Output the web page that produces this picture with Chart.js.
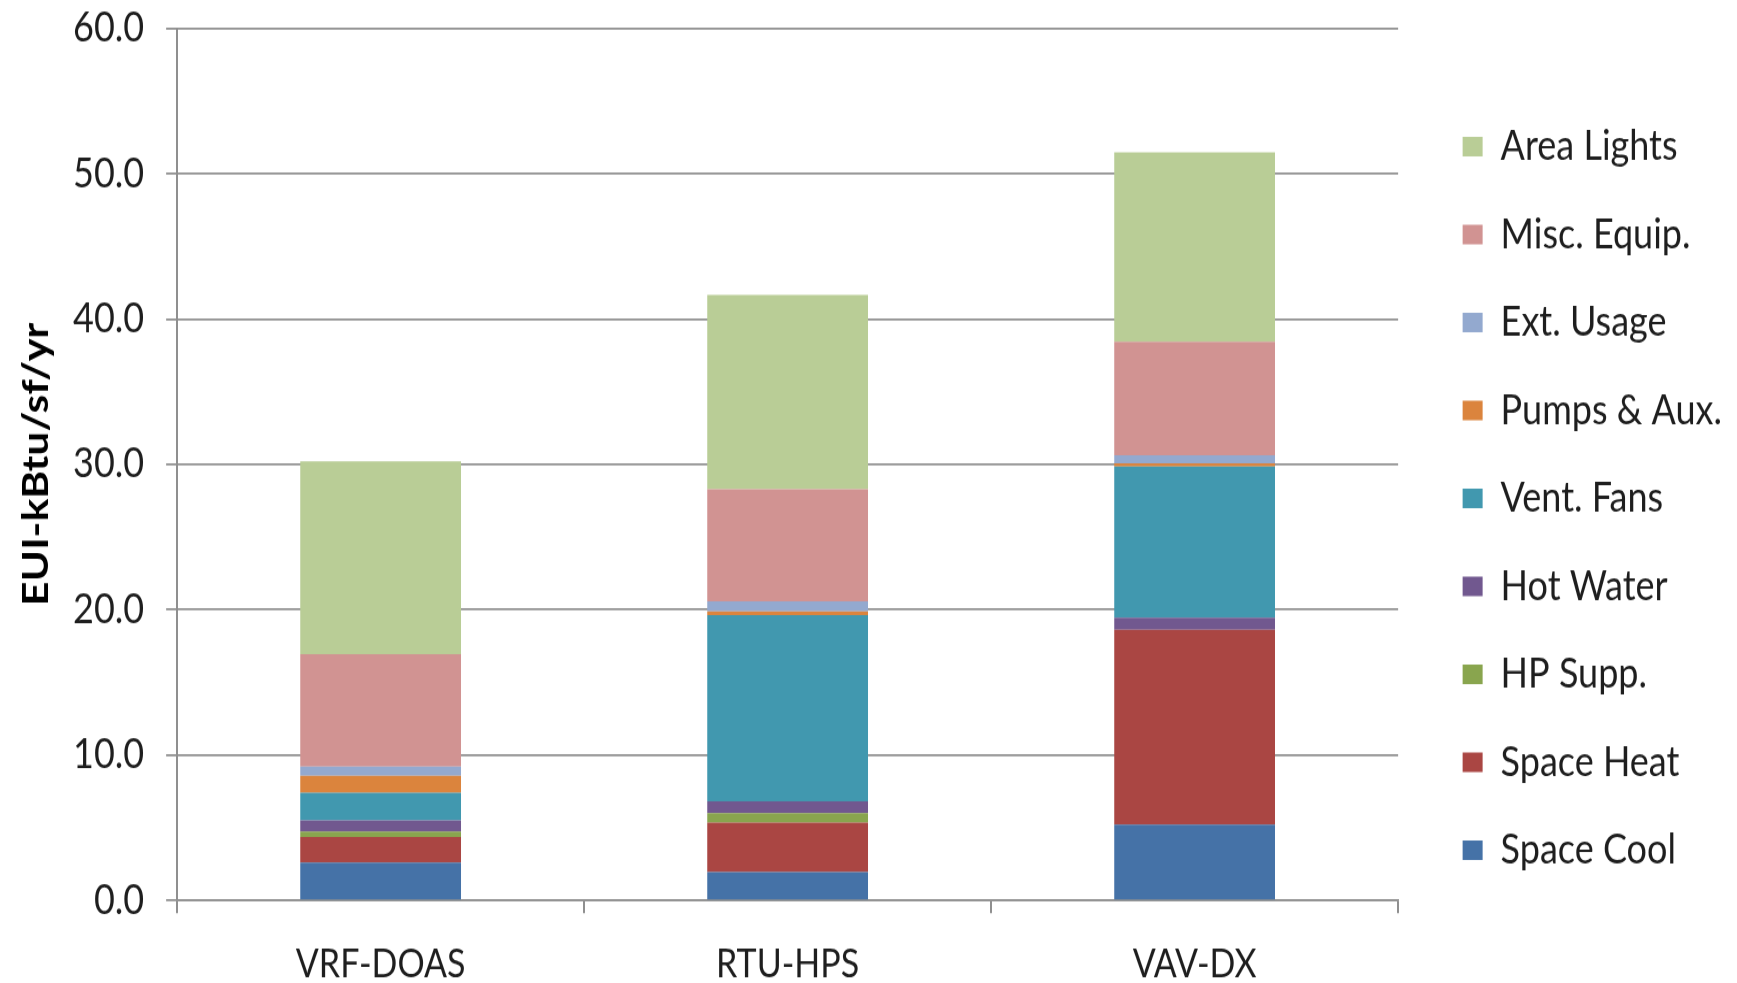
<!DOCTYPE html>
<html>
<head>
<meta charset="utf-8">
<title>EUI by system</title>
<script src="https://cdn.jsdelivr.net/npm/chart.js@4/dist/chart.umd.min.js"></script>
<style>
    html, body { margin: 0; padding: 0; background: #ffffff; overflow: hidden; }
    canvas { display: block; }
</style>
</head>
<body>
<!-- drawn at 855px high and stretched to 983px, like the original export -->
<canvas id="barChart" width="1737" height="855" style="width:1737px;height:983px;"></canvas>
<script>
// Stacked bar chart of annual energy use intensity per system type

const systems = ["VRF-DOAS", "RTU-HPS", "VAV-DX"];

const spaceCool   = [2.60, 1.95, 5.22];
const spaceHeat   = [1.77, 3.41, 13.41];
const hpSupp      = [0.37, 0.65, 0.00];
const hotWater    = [0.78, 0.81, 0.82];
const ventFans    = [1.90, 12.80, 10.41];
const pumpsAux    = [1.15, 0.27, 0.21];
const extUsage    = [0.64, 0.69, 0.55];
const miscEquip   = [7.73, 7.70, 7.82];
const areaLights  = [13.26, 13.38, 13.03];

const yTicks = [0, 10, 20, 30, 40, 50, 60];

const gridColor = '#8f8f8f';
const textColor = '#1e1e1e';

// move the legend away from the plot without changing its row spacing
const legendShift = {
    id: 'legendShift',
    afterLayout(chart) {
        const lg = chart.legend;
        lg.left += 24;
        lg.right += 24;
        lg.top -= 16;
        lg.bottom -= 16;
    }
};

new Chart(document.getElementById("barChart"), {
    type: 'bar',
    data: {
        labels: systems,
        datasets: [
            { label: "Space Cool",    data: spaceCool,  backgroundColor: '#4572a7' },
            { label: "Space Heat",    data: spaceHeat,  backgroundColor: '#aa4643' },
            { label: "HP Supp.",      data: hpSupp,     backgroundColor: '#89a54e' },
            { label: "Hot Water",     data: hotWater,   backgroundColor: '#71588f' },
            { label: "Vent. Fans",    data: ventFans,   backgroundColor: '#4198af' },
            { label: "Pumps & Aux.",  data: pumpsAux,   backgroundColor: '#db843d' },
            { label: "Ext. Usage",    data: extUsage,   backgroundColor: '#93a9cf' },
            { label: "Misc. Equip.",  data: miscEquip,  backgroundColor: '#d19392' },
            { label: "Area Lights",   data: areaLights, backgroundColor: '#b9cd96' }
        ]
    },
    options: {
        responsive: false,
        animation: false,
        devicePixelRatio: 1,
        barPercentage: 0.395,
        categoryPercentage: 1,
        layout: {
            padding: { top: 16, left: 14, right: 29, bottom: -28 }
        },
        scales: {
            x: {
                stacked: true,
                offset: true,
                grid: {
                    offset: true,
                    drawOnChartArea: false,
                    color: gridColor,
                    lineWidth: 2,
                    tickLength: 11
                },
                border: { color: gridColor, width: 1.8 },
                ticks: {
                    color: textColor,
                    padding: 24,
                    font: { family: 'Lato', size: 34 }
                }
            },
            y: {
                stacked: true,
                min: 0,
                max: 60,
                afterBuildTicks(axis) {
                    axis.ticks = yTicks.map(v => ({ value: v }));
                },
                grid: {
                    color: gridColor,
                    lineWidth: 1.8,
                    tickLength: 11
                },
                border: { color: gridColor, width: 2 },
                ticks: {
                    color: textColor,
                    padding: 22,
                    font: { family: 'Lato', size: 36, lineHeight: 0.14 },
                    callback: v => Number(v).toFixed(1)
                },
                title: {
                    display: true,
                    text: 'EUI-kBtu/sf/yr',
                    color: '#000000',
                    padding: { top: 4, bottom: -4 },
                    font: { family: 'Lato', size: 37, weight: 'bold', lineHeight: 1 }
                }
            }
        },
        plugins: {
            legend: {
                position: 'right',
                reverse: true,
                labels: {
                    color: textColor,
                    boxWidth: 20,
                    boxHeight: 17,
                    padding: 40.5,
                    font: { family: 'Lato', size: 36 }
                }
            },
            tooltip: { enabled: false }
        }
    },
    plugins: [legendShift]
});
</script>
</body>
</html>
